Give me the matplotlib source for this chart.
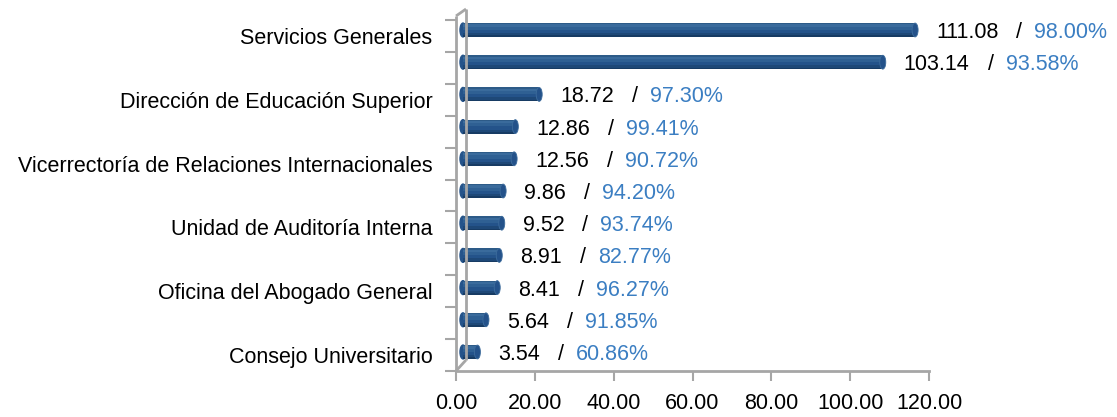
import matplotlib
matplotlib.use("Agg")
import matplotlib.pyplot as plt
from matplotlib.lines import Line2D
from matplotlib.patches import Ellipse

plt.rcParams['font.family'] = ['Liberation Sans', 'DejaVu Sans']

categories = [
    "Servicios Generales", "", "Dirección de Educación Superior", "",
    "Vicerrectoría de Relaciones Internacionales", "", "Unidad de Auditoría Interna", "",
    "Oficina del Abogado General", "", "Consejo Universitario",
]
values = [111.08, 103.14, 18.72, 12.86, 12.56, 9.86, 9.52, 8.91, 8.41, 5.64, 3.54]
percents = [98.00, 93.58, 97.30, 99.41, 90.72, 94.20, 93.74, 82.77, 96.27, 91.85, 60.86]
xticks = [0, 20, 40, 60, 80, 100, 120]

FS = 15.5
W, H = 1117, 417
fig = plt.figure(figsize=(W / 100, H / 100), dpi=100)

def fx(px):
    return px / W

def fy(py):
    return 1 - py / H

GRAY = '#a6a6a6'

# frame axes (visible axis, tick labels, categories)
ax2 = fig.add_axes([fx(456), fy(371), fx(929) - fx(456), fy(20) - fy(371)])
ax2.set_xlim(0, 120)
n = len(categories)
ax2.set_ylim(n - 0.5, -0.5)
ax2.set_xticks(xticks)
ax2.set_xticklabels([f"{t:.2f}" for t in xticks], fontsize=FS)
ax2.set_yticks([i - 0.5 for i in range(n + 1)])
ax2.set_yticklabels([])
ax2.set_yticks(range(n), minor=True)
ax2.set_yticklabels(categories, minor=True, fontsize=FS)
ax2.tick_params(axis='y', which='minor', length=0, pad=17)
ax2.tick_params(axis='y', which='major', length=8, color=GRAY, width=1.5)
ax2.tick_params(axis='x', length=7, color=GRAY, width=1.5, pad=9)
for s in ['top', 'right', 'left']:
    ax2.spines[s].set_visible(False)
ax2.spines['bottom'].set_color(GRAY)
ax2.spines['bottom'].set_linewidth(2)
ax2.patch.set_alpha(0)

# 3D wall lines
wall = [((456, 371), (456, 16)), ((456, 16), (466, 9)), ((466, 9), (466, 360)),
        ((466, 360), (456, 371))]
for (x0, y0), (x1, y1) in wall:
    fig.add_artist(Line2D([fx(x0), fx(x1)], [fy(y0), fy(y1)], transform=fig.transFigure,
                          color=GRAY, lw=2, solid_capstyle='butt'))

# bar axes
scale = 4.07  # px per unit
x0px = 463
ax = fig.add_axes([fx(456), fy(30 + 32.2 * (n - 1) + 16.1), fx(929) - fx(456), 32.2 * n / H])
ax.set_xlim(-(x0px - 456) / scale, -(x0px - 456) / scale + (929 - 456) / scale)
ax.set_ylim(n - 0.5, -0.5)
ax.axis('off')
ax.patch.set_alpha(0)

ypos = list(range(n))
bh = 0.43
capw = 6 / scale
# cylinder shading: stacked stripes from top to bottom
stripes = [(-0.215, 0.04, '#2d5b88'), (-0.175, 0.07, '#3a6b9c'), (-0.105, 0.10, '#2f6093'),
           (-0.005, 0.10, '#24538a'), (0.095, 0.07, '#1e4877'), (0.165, 0.05, '#173b63')]
for off, h, c in stripes:
    ax.barh([y + off + h / 2 for y in ypos], values, height=h, color=c, linewidth=0,
            clip_on=False, zorder=3)
for y, v in zip(ypos, values):
    ax.add_patch(Ellipse((v, y), capw, bh, facecolor='#24528a', edgecolor='#3d6c9c',
                         lw=0.6, zorder=4, clip_on=False))
    ax.add_patch(Ellipse((0, y), capw, bh, color='#24538a', zorder=2, clip_on=False))

for y, v, p in zip(ypos, values, percents):
    t1 = ax.annotate(f"{v:.2f}", xy=(v, y + 0.08), xytext=(21, 0), textcoords='offset pixels',
                     va='center', ha='left', fontsize=FS, color='black', annotation_clip=False)
    t2 = ax.annotate("   /  ", xy=(1, 0), xycoords=t1, va='bottom', ha='left',
                     fontsize=FS, color='black', annotation_clip=False)
    ax.annotate(f"{p:.2f}%", xy=(1, 0), xycoords=t2, va='bottom', ha='left',
                fontsize=FS, color='#3b7ec2', annotation_clip=False)

fig.savefig("out.png", dpi=100)
